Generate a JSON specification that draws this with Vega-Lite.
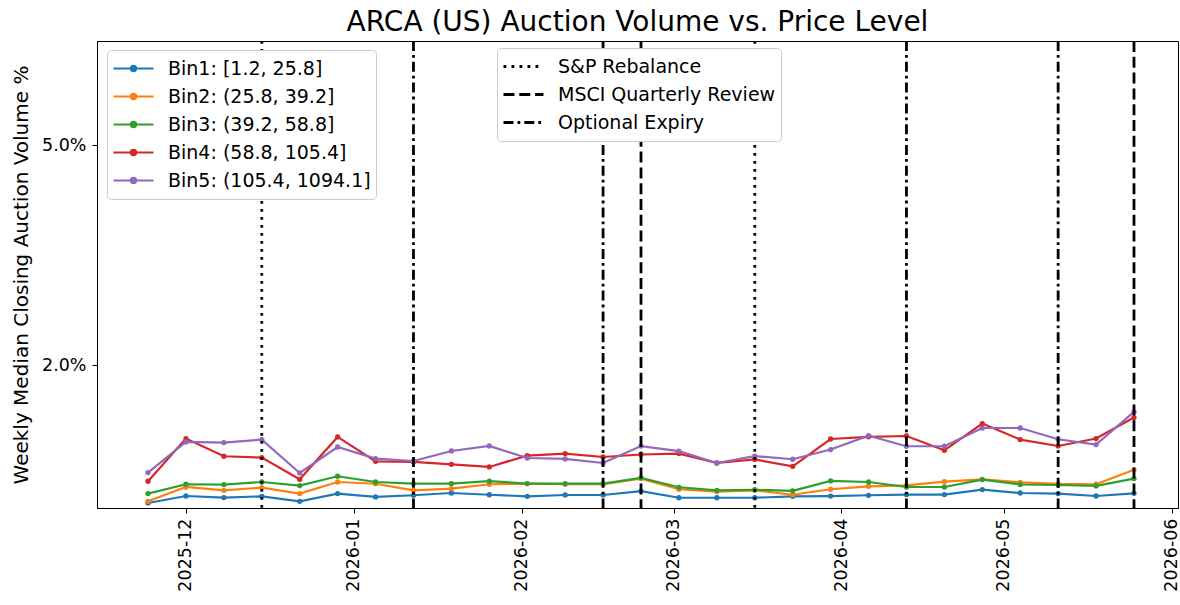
{
  "$schema": "https://vega.github.io/schema/vega-lite/v6.json",
  "width": 1081,
  "height": 467,
  "autosize": "none",
  "padding": {"left": 97, "top": 41, "right": 2, "bottom": 97},
  "background": "white",
  "config": {
    "font": "DejaVu Sans",
    "view": {"stroke": "black", "strokeWidth": 1},
    "axis": {"grid": false, "domainColor": "black", "tickColor": "black", "labelColor": "black", "titleColor": "black", "tickSize": 5, "labelFont": "DejaVu Sans", "titleFont": "DejaVu Sans"},
    "legend": {"labelFont": "DejaVu Sans", "labelColor": "black"}
  },
  "title": {"text": "ARCA (US) Auction Volume vs. Price Level", "fontSize": 28, "fontWeight": "normal", "color": "black", "anchor": "middle", "frame": "group", "baseline": "alphabetic", "offset": 11, "dy": 30, "font": "DejaVu Sans"},
  "layer": [
    {
      "data": {"values": [
        {"d": "2025-11-24", "Bin1": 0.123, "Bin2": 0.146, "Bin3": 0.251, "Bin4": 0.419, "Bin5": 0.537},
        {"d": "2025-12-01", "Bin1": 0.218, "Bin2": 0.341, "Bin3": 0.378, "Bin4": 1.001, "Bin5": 0.955},
        {"d": "2025-12-08", "Bin1": 0.196, "Bin2": 0.296, "Bin3": 0.374, "Bin4": 0.760, "Bin5": 0.946},
        {"d": "2025-12-15", "Bin1": 0.214, "Bin2": 0.333, "Bin3": 0.409, "Bin4": 0.742, "Bin5": 0.987},
        {"d": "2025-12-22", "Bin1": 0.146, "Bin2": 0.251, "Bin3": 0.360, "Bin4": 0.446, "Bin5": 0.532},
        {"d": "2025-12-29", "Bin1": 0.251, "Bin2": 0.409, "Bin3": 0.487, "Bin4": 1.023, "Bin5": 0.886},
        {"d": "2026-01-05", "Bin1": 0.205, "Bin2": 0.385, "Bin3": 0.409, "Bin4": 0.691, "Bin5": 0.728},
        {"d": "2026-01-12", "Bin1": 0.228, "Bin2": 0.296, "Bin3": 0.387, "Bin4": 0.682, "Bin5": 0.695},
        {"d": "2026-01-19", "Bin1": 0.259, "Bin2": 0.319, "Bin3": 0.387, "Bin4": 0.650, "Bin5": 0.832},
        {"d": "2026-01-26", "Bin1": 0.235, "Bin2": 0.378, "Bin3": 0.421, "Bin4": 0.614, "Bin5": 0.900},
        {"d": "2026-02-02", "Bin1": 0.214, "Bin2": 0.387, "Bin3": 0.387, "Bin4": 0.769, "Bin5": 0.736},
        {"d": "2026-02-09", "Bin1": 0.232, "Bin2": 0.378, "Bin3": 0.387, "Bin4": 0.796, "Bin5": 0.723},
        {"d": "2026-02-16", "Bin1": 0.232, "Bin2": 0.378, "Bin3": 0.387, "Bin4": 0.750, "Bin5": 0.668},
        {"d": "2026-02-23", "Bin1": 0.285, "Bin2": 0.455, "Bin3": 0.466, "Bin4": 0.784, "Bin5": 0.899},
        {"d": "2026-03-02", "Bin1": 0.194, "Bin2": 0.310, "Bin3": 0.337, "Bin4": 0.796, "Bin5": 0.830},
        {"d": "2026-03-09", "Bin1": 0.194, "Bin2": 0.278, "Bin3": 0.296, "Bin4": 0.668, "Bin5": 0.668},
        {"d": "2026-03-16", "Bin1": 0.194, "Bin2": 0.296, "Bin3": 0.303, "Bin4": 0.716, "Bin5": 0.762},
        {"d": "2026-03-23", "Bin1": 0.214, "Bin2": 0.235, "Bin3": 0.289, "Bin4": 0.623, "Bin5": 0.719},
        {"d": "2026-03-30", "Bin1": 0.217, "Bin2": 0.310, "Bin3": 0.423, "Bin4": 0.995, "Bin5": 0.851},
        {"d": "2026-04-06", "Bin1": 0.228, "Bin2": 0.350, "Bin3": 0.409, "Bin4": 1.025, "Bin5": 1.040},
        {"d": "2026-04-13", "Bin1": 0.237, "Bin2": 0.364, "Bin3": 0.341, "Bin4": 1.036, "Bin5": 0.896},
        {"d": "2026-04-20", "Bin1": 0.237, "Bin2": 0.415, "Bin3": 0.341, "Bin4": 0.841, "Bin5": 0.896},
        {"d": "2026-04-27", "Bin1": 0.305, "Bin2": 0.446, "Bin3": 0.442, "Bin4": 1.205, "Bin5": 1.145},
        {"d": "2026-05-04", "Bin1": 0.259, "Bin2": 0.405, "Bin3": 0.375, "Bin4": 0.987, "Bin5": 1.145},
        {"d": "2026-05-11", "Bin1": 0.251, "Bin2": 0.383, "Bin3": 0.368, "Bin4": 0.900, "Bin5": 0.991},
        {"d": "2026-05-18", "Bin1": 0.218, "Bin2": 0.378, "Bin3": 0.355, "Bin4": 1.001, "Bin5": 0.919},
        {"d": "2026-05-25", "Bin1": 0.255, "Bin2": 0.575, "Bin3": 0.455, "Bin4": 1.287, "Bin5": 1.364}
      ]},
      "transform": [{"fold": ["Bin1", "Bin2", "Bin3", "Bin4", "Bin5"], "as": ["bin", "v"]}],
      "mark": {"type": "line", "strokeWidth": 2.2, "point": {"filled": true, "size": 28}},
      "encoding": {
        "x": {
          "field": "d", "type": "temporal",
          "scale": {"type": "utc", "domain": [1763128800000, 1780369200000], "nice": false},
          "axis": {
            "title": null,
            "values": [
              {"year": 2025, "month": 12, "date": 1, "utc": true},
              {"year": 2026, "month": 1, "date": 1, "utc": true},
              {"year": 2026, "month": 2, "date": 1, "utc": true},
              {"year": 2026, "month": 3, "date": 1, "utc": true},
              {"year": 2026, "month": 4, "date": 1, "utc": true},
              {"year": 2026, "month": 5, "date": 1, "utc": true},
              {"year": 2026, "month": 6, "date": 1, "utc": true}
            ],
            "labelExpr": "utcFormat(datum.value, '%Y-%m')",
            "labelAngle": 270, "labelFontSize": 17.5, "labelPadding": 5
          }
        },
        "y": {
          "field": "v", "type": "quantitative",
          "scale": {"domain": [0.0545, 6.42], "nice": false, "zero": false},
          "axis": {
            "title": "Weekly Median Closing Auction Volume %",
            "values": [2, 5],
            "labelExpr": "format(datum.value, '.1f') + '%'",
            "labelFontSize": 17.5, "labelPadding": 6,
            "titleFontSize": 20, "titleFontWeight": "normal", "titlePadding": 10
          }
        },
        "color": {
          "field": "bin", "type": "nominal",
          "scale": {"domain": ["Bin1", "Bin2", "Bin3", "Bin4", "Bin5"], "range": ["#1f77b4", "#ff7f0e", "#2ca02c", "#d62728", "#9467bd"]},
          "legend": {
            "title": null,
            "orient": "none", "legendX": 10, "legendY": 9,
            "labelExpr": "{'Bin1': 'Bin1: [1.2, 25.8]', 'Bin2': 'Bin2: (25.8, 39.2]', 'Bin3': 'Bin3: (39.2, 58.8]', 'Bin4': 'Bin4: (58.8, 105.4]', 'Bin5': 'Bin5: (105.4, 1094.1]'}[datum.label]",
            "labelFontSize": 19, "labelOffset": 13, "labelLimit": 400,
            "symbolType": "M-1,0L1,0M-0.13,0A0.13,0.13,0,1,0,0.13,0A0.13,0.13,0,1,0,-0.13,0Z",
            "symbolSize": 1600, "symbolStrokeWidth": 2.2,
            "clipHeight": 27, "rowPadding": 1,
            "padding": 5, "fillColor": "white", "strokeColor": "#cccccc", "cornerRadius": 4,
            "encode": {"symbols": {"update": {"fill": {"scale": "color", "field": "value"}, "stroke": {"scale": "color", "field": "value"}, "opacity": {"value": 1}}}}
          }
        }
      }
    },
    {
      "data": {"values": [
        {"d": "2025-12-15", "event": "S&P Rebalance"},
        {"d": "2026-03-16", "event": "S&P Rebalance"},
        {"d": "2026-02-23", "event": "MSCI Quarterly Review"},
        {"d": "2026-05-25", "event": "MSCI Quarterly Review"},
        {"d": "2026-01-12", "event": "Optional Expiry"},
        {"d": "2026-02-16", "event": "Optional Expiry"},
        {"d": "2026-04-13", "event": "Optional Expiry"},
        {"d": "2026-05-11", "event": "Optional Expiry"}
      ]},
      "mark": {"type": "rule", "color": "black", "strokeWidth": 2.8},
      "encoding": {
        "x": {"field": "d", "type": "temporal"},
        "strokeDash": {
          "field": "event", "type": "nominal",
          "scale": {"domain": ["S&P Rebalance", "MSCI Quarterly Review", "Optional Expiry"], "range": [[2.8, 5.2], [11, 4.8], [10, 4, 2.8, 4]]},
          "legend": {
            "title": null,
            "orient": "none", "legendX": 400, "legendY": 7,
            "labelFontSize": 19, "labelOffset": 13, "labelLimit": 400,
            "symbolType": "stroke", "symbolSize": 1600, "symbolStrokeWidth": 2.8, "symbolStrokeColor": "black",
            "clipHeight": 27, "rowPadding": 1,
            "padding": 5, "fillColor": "white", "strokeColor": "#cccccc", "cornerRadius": 4
          }
        }
      }
    }
  ]
}
